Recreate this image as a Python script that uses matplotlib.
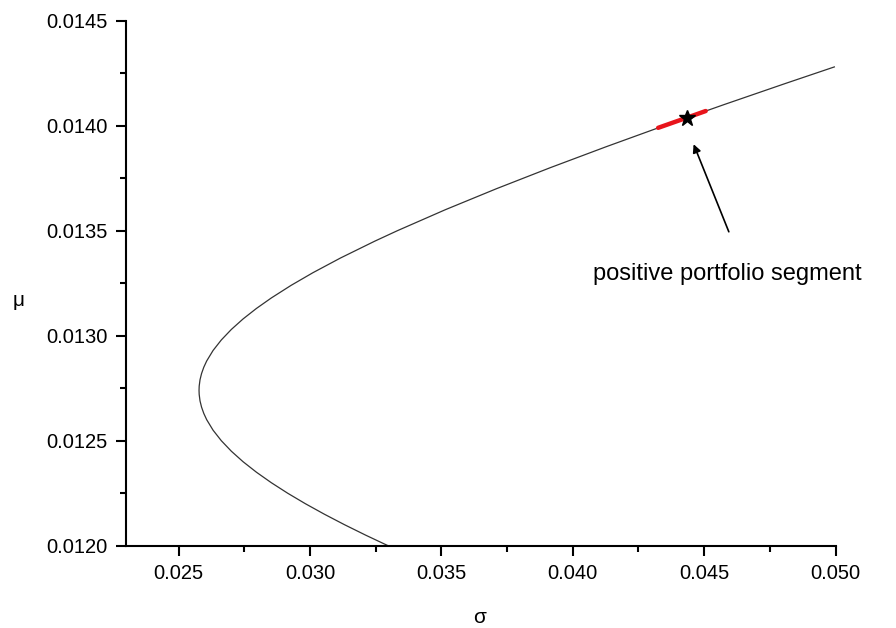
import matplotlib.pyplot as plt
import numpy as np

plt.rcParams['font.family'] = ['Liberation Sans', 'DejaVu Sans']

# efficient frontier (mu, sigma)
mu = [0.01200, 0.01205, 0.01210, 0.01215, 0.01220, 0.01225, 0.01230, 0.01235,
      0.01240, 0.01245, 0.01250, 0.01255, 0.01260, 0.01263, 0.01266, 0.01269,
      0.01272, 0.01274, 0.01276, 0.01279, 0.01282, 0.01285, 0.01288, 0.01293,
      0.01298, 0.01303, 0.01308, 0.01313, 0.01318, 0.01324, 0.01330, 0.01337,
      0.01345, 0.01350, 0.01360, 0.01370, 0.01380, 0.01390, 0.01400, 0.01410,
      0.01420, 0.01428]
sigma = [0.032975, 0.032127, 0.031318, 0.030551, 0.029828, 0.029154, 0.028532, 0.027965,
         0.027456, 0.027010, 0.026629, 0.026315, 0.026072, 0.025961, 0.025876, 0.025817,
         0.025786, 0.025780, 0.025786, 0.025817, 0.025876, 0.025961, 0.026072, 0.026315,
         0.026629, 0.027010, 0.027456, 0.027965, 0.028532, 0.029285, 0.030112, 0.031161,
         0.032462, 0.033325, 0.035151, 0.037096, 0.039141, 0.041273, 0.043477, 0.045744,
         0.048065, 0.049955]

# positive portfolio segment
seg_sigma = [0.04325, 0.04434, 0.04506]
seg_mu = [0.013990, 0.014038, 0.014070]

# tangency point
star_sigma = 0.04434
star_mu = 0.014038

fig = plt.figure(figsize=(8.96, 6.28), dpi=100)
ax = fig.add_axes([0.1406, 0.131, 0.7919, 0.836])

ax.plot(sigma, mu, color='#333333', linewidth=0.9, zorder=2)
ax.plot(seg_sigma, seg_mu, color='#e8141b', linewidth=3.2, solid_capstyle='round', zorder=3)
ax.plot(star_sigma, star_mu, marker='*', color='black', markersize=12, zorder=4)

ax.annotate('', xy=(0.04460, 0.013912), xytext=(0.04594, 0.013495),
            arrowprops=dict(arrowstyle='-|>', color='black', lw=1.2,
                            mutation_scale=12, shrinkA=0, shrinkB=0))
ax.text(0.04590, 0.013295, 'positive portfolio segment', fontsize=17,
        ha='center', va='center')

ax.set_xlim(0.023, 0.050)
ax.set_ylim(0.0120, 0.0145)
ax.set_xticks([0.025, 0.030, 0.035, 0.040, 0.045, 0.050])
ax.set_xticks(np.arange(0.0275, 0.050, 0.005), minor=True)
ax.set_yticks([0.0120, 0.0125, 0.0130, 0.0135, 0.0140, 0.0145])
ax.set_yticks(np.arange(0.01225, 0.0145, 0.0005), minor=True)
ax.set_xticklabels(['0.025', '0.030', '0.035', '0.040', '0.045', '0.050'])
ax.set_yticklabels(['0.0120', '0.0125', '0.0130', '0.0135', '0.0140', '0.0145'])

for s in ['top', 'right']:
    ax.spines[s].set_visible(False)
for s in ['left', 'bottom']:
    ax.spines[s].set_linewidth(1.5)

ax.tick_params(which='major', direction='out', length=7, width=1.5, labelsize=14.5, pad=6)
ax.tick_params(which='minor', direction='out', length=4, width=1.5)

ax.set_xlabel('σ', fontsize=15, va='center')
ax.set_ylabel('μ', fontsize=15, rotation=0, va='center', ha='center')
ax.xaxis.set_label_coords(0.499, -0.136)
ax.yaxis.set_label_coords(-0.151, 0.468)

fig.savefig('out.png', dpi=100)
